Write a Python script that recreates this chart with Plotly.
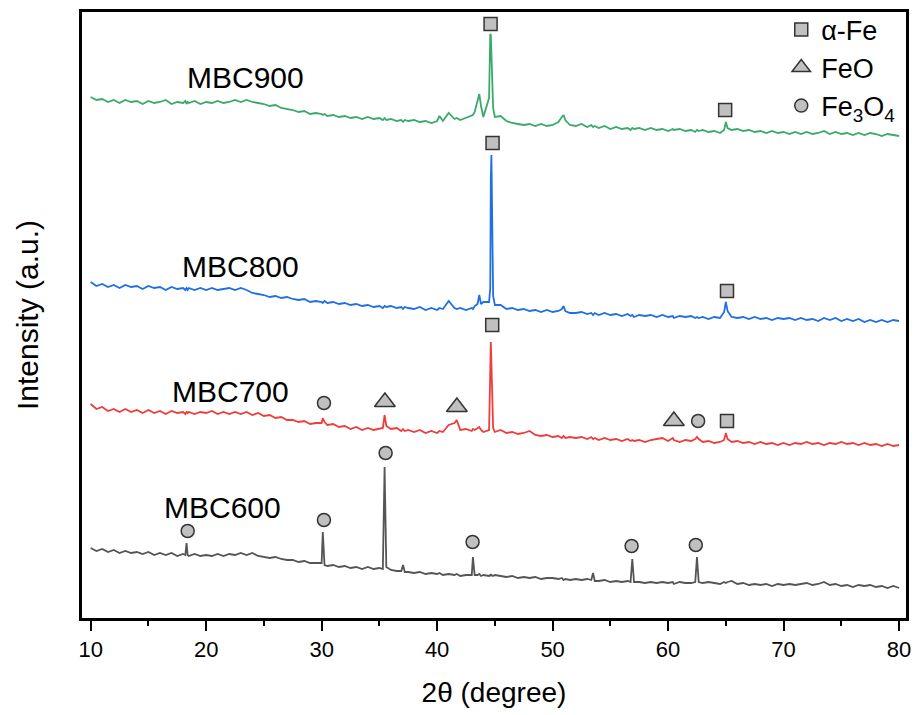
import plotly.graph_objects as go

# 2theta grid (degree)
two_theta = [
    10.0, 10.5, 11.0, 11.5, 12.0, 12.5, 13.0, 13.5, 14.0, 14.5, 15.0, 15.5, 16.0, 16.5, 17.0, 17.5,
    18.0, 18.2, 18.3, 18.4, 18.5, 19.0, 19.5, 20.0, 20.5, 21.0, 21.5, 22.0, 22.5, 23.0, 23.5, 24.0,
    24.5, 25.0, 25.5, 26.0, 26.5, 27.0, 27.5, 28.0, 28.5, 29.0, 29.5,
    30.0, 30.1, 30.25, 30.5, 31.0, 31.5, 32.0, 32.5, 33.0, 33.5, 34.0, 34.5, 35.0, 35.3, 35.45, 35.6,
    36.0, 36.5, 36.9, 37.05, 37.2, 37.5, 38.0, 38.5, 39.0, 39.5, 40.0, 40.2, 40.5,
    41.0, 41.5, 41.7, 42.0, 42.5, 43.0, 43.1, 43.25, 43.5, 43.65, 43.8, 44.0, 44.5, 44.6, 44.65, 44.7,
    44.85, 45.0, 45.5, 46.0, 46.5, 47.0, 47.5, 48.0, 48.5, 49.0, 49.5, 50.0, 50.5, 50.8, 50.95, 51.1, 51.5,
    52.0, 52.5, 53.0, 53.35, 53.5, 53.65, 54.0, 54.5, 55.0, 55.5, 56.0, 56.5, 56.75, 56.9, 57.05, 57.5,
    58.0, 58.5, 59.0, 59.5, 60.0, 60.4, 60.5, 61.0, 61.5, 62.0, 62.35, 62.5, 62.65, 63.0, 63.5, 64.0,
    64.5, 64.85, 65.0, 65.15, 65.5,
    66.0, 66.5, 67.0, 67.5, 68.0, 68.5, 69.0, 69.5, 70.0, 70.5, 71.0, 71.5, 72.0, 72.5, 73.0, 73.5,
    74.0, 74.5, 75.0, 75.5, 76.0, 76.5, 77.0, 77.5, 78.0, 78.5, 79.0, 79.5, 80.0,
]

# stacked intensities (a.u.)
mbc900 = [
    521, 518, 519, 516, 518, 515, 518, 516, 517, 514, 517, 515, 516, 518, 514, 516,
    515, 517, 514, 516, 515, 517, 514, 516, 515, 517, 515, 516, 518, 516, 518, 516,
    515, 514, 512, 513, 510, 509, 508, 506, 507, 504, 505,
    504, 503, 504, 502, 503, 501, 502, 500, 501, 499, 501, 499, 500, 498, 500, 498,
    499, 497, 498, 496, 498, 497, 498, 496, 497, 495, 497, 502, 497,
    505, 499, 500, 498, 500, 502, 503, 506, 518, 524, 512, 501, 520, 584, 583, 565,
    510, 501, 502, 497, 495, 494, 493, 494, 492, 494, 492, 493, 496, 501, 503, 498, 493,
    492, 494, 491, 493, 491, 492, 490, 492, 489, 491, 489, 490, 488, 490, 489, 490,
    488, 490, 488, 489, 487, 489, 488, 489, 487, 488, 486, 488, 487, 488, 486, 487,
    485, 488, 496, 490, 488,
    489, 487, 488, 486, 487, 485, 487, 485, 486, 484, 486, 484, 486, 484, 485, 487,
    484, 486, 484, 485, 483, 485, 483, 485, 484, 482, 484, 483, 482,
]

mbc800 = [
    336, 332, 334, 331, 333, 330, 333, 331, 332, 329, 332, 330, 331, 328, 331, 329,
    330, 328, 330, 328, 330, 328, 330, 328, 330, 328, 329, 330, 328, 330, 328, 325,
    324, 323, 321, 322, 320, 321, 319, 318, 319, 316, 317,
    316, 315, 317, 315, 316, 314, 315, 313, 314, 312, 313, 311, 312, 310, 312, 311,
    312, 310, 311, 309, 311, 310, 309, 311, 308, 310, 308, 310, 309,
    317, 310, 309, 310, 308, 310, 309, 312, 314, 323, 314, 316, 316, 330, 440, 463,
    322, 313, 313, 309, 310, 308, 309, 307, 308, 306, 308, 306, 307, 309, 312, 307, 305,
    305, 306, 304, 305, 303, 305, 303, 305, 303, 304, 302, 304, 302, 303, 301, 303,
    302, 303, 301, 303, 301, 302, 300, 302, 301, 302, 300, 301, 300, 301, 299, 301,
    300, 306, 316, 307, 301,
    300, 301, 299, 301, 299, 300, 298, 300, 299, 300, 298, 300, 298, 299, 297, 300,
    298, 300, 297, 299, 297, 299, 296, 298, 296, 298, 296, 298, 297,
]

mbc700 = [
    214, 209, 211, 207, 209, 206, 209, 206, 208, 205, 208, 205, 207, 204, 207, 205,
    206, 204, 206, 205, 206, 204, 206, 205, 207, 204, 206, 204, 206, 204, 206, 203,
    205, 202, 203, 200, 201, 198, 198, 196, 197, 194, 195,
    195, 200, 196, 193, 194, 191, 192, 189, 191, 188, 190, 188, 189, 190, 203, 192,
    189, 190, 187, 189, 187, 188, 186, 188, 185, 187, 185, 187, 186,
    193, 195, 198, 188, 189, 187, 189, 188, 190, 191, 188, 186, 188, 240, 276, 255,
    190, 186, 188, 185, 186, 184, 185, 187, 183, 182, 183, 181, 182, 180, 182, 180, 181,
    180, 181, 179, 181, 179, 180, 178, 180, 178, 179, 177, 179, 177, 178, 177, 178,
    176, 178, 179, 180, 177, 180, 178, 176, 178, 177, 179, 181, 179, 176, 177, 175,
    176, 178, 185, 179, 176,
    177, 175, 176, 174, 176, 174, 175, 173, 175, 173, 175, 174, 176, 174, 175, 173,
    175, 174, 176, 174, 175, 173, 175, 173, 174, 172, 174, 172, 173,
]

mbc600 = [
    70, 67, 69, 66, 68, 65, 67, 65, 66, 64, 66, 63, 65, 63, 65, 62,
    64, 63, 75, 63, 62, 64, 62, 63, 62, 64, 62, 64, 63, 65, 63, 65,
    62, 61, 60, 61, 59, 58, 58, 56, 57, 55, 55,
    55, 86, 53, 52, 53, 51, 52, 50, 51, 49, 51, 49, 50, 49, 151, 51,
    48, 47, 47, 53, 46, 46, 45, 46, 44, 45, 44, 45, 43,
    44, 43, 44, 42, 43, 43, 61, 43, 43, 44, 42, 43, 42, 43, 42, 43,
    42, 43, 42, 41, 42, 40, 41, 40, 41, 39, 40, 40, 39, 40, 38, 39, 38,
    39, 38, 39, 38, 45, 37, 37, 38, 36, 37, 36, 37, 36, 59, 36, 36,
    35, 36, 35, 36, 35, 36, 34, 36, 35, 35, 36, 61, 36, 35, 36, 35,
    34, 36, 35, 36, 37,
    34, 35, 33, 34, 33, 34, 32, 34, 33, 34, 33, 34, 35, 33, 34, 36,
    33, 34, 32, 33, 31, 33, 32, 33, 31, 32, 30, 32, 30,
]

sample_names = ["MBC600", "MBC700", "MBC800", "MBC900"]
sample_colors = ["#555555", "#f03c3c", "#1f6fe6", "#3aaa6a"]
sample_label_x = [21.4, 22.15, 22.95, 23.45]
sample_label_y = [111, 227, 352, 541]

# phase markers (2theta, stacked intensity)
alpha_fe_x = [44.63, 64.94, 44.8, 65.1, 44.77, 65.1]
alpha_fe_y = [594, 508, 475, 327, 293, 197]
feo_x = [35.48, 41.71, 60.5]
feo_y = [216, 211, 197]
fe3o4_x = [30.2, 62.6, 18.4, 30.2, 35.54, 43.07, 56.84, 62.4]
fe3o4_y = [215, 197, 87, 98, 165, 76, 72, 73]

assert all(len(s) == len(two_theta) for s in (mbc600, mbc700, mbc800, mbc900))

fig = go.Figure()
for name, ys, col in zip(sample_names, [mbc600, mbc700, mbc800, mbc900], sample_colors):
    fig.add_trace(go.Scatter(x=two_theta, y=ys, mode="lines", name=name,
                             line=dict(color=col, width=1.8), showlegend=False))

mk_line = dict(color="#333333", width=1.5)
fig.add_trace(go.Scatter(x=alpha_fe_x, y=alpha_fe_y, mode="markers", name="α-Fe",
                         marker=dict(symbol="square", size=13, color="#c0c0c0", line=mk_line)))
fig.add_trace(go.Scatter(x=feo_x, y=feo_y, mode="markers", name="FeO",
                         marker=dict(symbol="triangle-up", size=18, color="#c0c0c0", line=mk_line)))
fig.add_trace(go.Scatter(x=fe3o4_x, y=fe3o4_y, mode="markers", name="Fe<sub>3</sub>O<sub>4</sub>",
                         marker=dict(symbol="circle", size=13, color="#c0c0c0", line=mk_line)))

for name, lx, ly in zip(sample_names, sample_label_x, sample_label_y):
    fig.add_annotation(x=lx, y=ly, text=name, showarrow=False,
                       font=dict(size=30, color="black"))

font_family = "Liberation Sans, Arial, sans-serif"
fig.update_layout(
    width=917, height=715,
    margin=dict(l=82, r=11, t=12, b=97, autoexpand=False),
    paper_bgcolor="white", plot_bgcolor="white",
    font=dict(family=font_family, color="black"),
    legend=dict(x=0.8486, y=1.011, xanchor="left", yanchor="top",
                font=dict(size=27), itemsizing="trace", bgcolor="rgba(0,0,0,0)",
                tracegroupgap=0),
    xaxis=dict(range=[9.25, 80.6], tickvals=[10, 20, 30, 40, 50, 60, 70, 80],
               ticks="outside", ticklen=10, tickwidth=2, tickcolor="black",
               minor=dict(tickvals=[15, 25, 35, 45, 55, 65, 75], ticks="outside",
                          ticklen=5, tickwidth=2, tickcolor="black"),
               showline=True, mirror=True, linewidth=2.5, linecolor="black",
               showgrid=False, zeroline=False,
               tickfont=dict(size=22),
               title=dict(text="2θ (degree)", font=dict(size=28), standoff=22)),
    yaxis=dict(range=[0, 606], showticklabels=False, ticks="",
               showline=True, mirror=True, linewidth=2.5, linecolor="black",
               showgrid=False, zeroline=False,
               title=dict(text="Intensity (a.u.)", font=dict(size=30), standoff=32)),
)

fig.write_html("out.html")
